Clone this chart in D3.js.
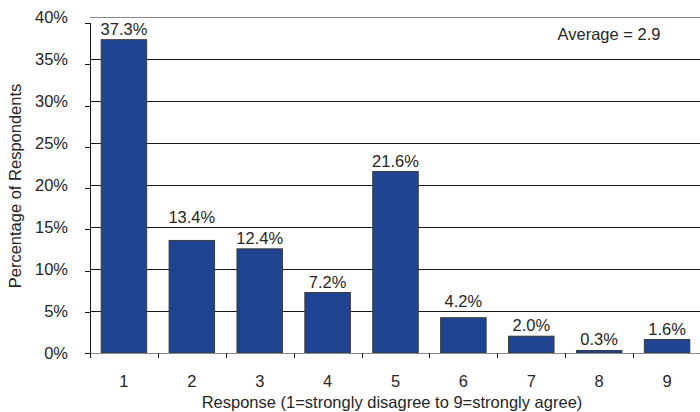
<!DOCTYPE html>
<html>
<head>
<meta charset="utf-8">
<script src="https://cdn.jsdelivr.net/npm/d3@7"></script>
<style>
  html, body { margin: 0; padding: 0; background: #fff; }
  svg text { font-family: "Liberation Sans", Arial, Helvetica, sans-serif; fill: #262626; }
</style>
</head>
<body>
<svg id="chart" width="700" height="412"></svg>
<script>
// Survey responses on a 1–9 scale
const responses = ["1", "2", "3", "4", "5", "6", "7", "8", "9"];
const percents = [37.3, 13.4, 12.4, 7.2, 21.6, 4.2, 2.0, 0.3, 1.6];
const yTicks = [0, 5, 10, 15, 20, 25, 30, 35, 40];
const averageLabel = "Average = 2.9";

const svg = d3.select("#chart");
const plotLeft = 90, plotRight = 701, plotTop = 17, plotBottom = 353;
const fs = 16.5;

const x = d3.scaleBand().domain(responses).range([plotLeft, plotRight]).paddingInner(0.33).paddingOuter(0.165);
const y = d3.scaleLinear().domain([0, 40]).range([plotBottom, plotTop]);
// tick marks on the value axis sit on a slightly compressed scale
const yTick = d3.scaleLinear().domain([0, 40]).range([plotBottom, 23]);

const gridVals = yTicks.filter(d => d > 0);

// horizontal gridlines
svg.append("g").selectAll("line").data(gridVals).join("line")
  .attr("x1", plotLeft).attr("x2", 700)
  .attr("y1", d => Math.round(y(d)) + 0.5).attr("y2", d => Math.round(y(d)) + 0.5)
  .attr("stroke", d => d === 40 ? "#8a8a8a" : "#1a1a1a").attr("stroke-width", 1);

// bars
svg.append("g").selectAll("rect").data(percents).join("rect")
  .attr("x", (d, i) => x(responses[i]))
  .attr("y", d => y(d))
  .attr("width", x.bandwidth())
  .attr("height", d => y(0) - y(d))
  .attr("fill", "#1f4592")
  .attr("stroke", "#3a3a3a").attr("stroke-width", 1);

// value labels: sit just above the bar, lifted over a gridline they would cross
function labelBaseline(v) {
  let base = y(v) - 5;
  const hit = gridVals.map(g => y(g)).find(gy => gy < base + 2 && gy > base - 12);
  if (hit !== undefined) base = hit - 4;
  return base;
}
svg.append("g").selectAll("text").data(percents).join("text")
  .attr("x", (d, i) => x(responses[i]) + x.bandwidth() / 2)
  .attr("y", d => labelBaseline(d))
  .attr("text-anchor", "middle")
  .attr("font-size", fs)
  .text(d => d.toFixed(1) + "%");

// value axis
const yAxis = svg.append("g");
yAxis.append("line").attr("x1", plotLeft + 0.5).attr("x2", plotLeft + 0.5).attr("y1", plotTop + 6).attr("y2", plotBottom)
  .attr("stroke", "#1a1a1a");
yAxis.selectAll(".tk").data(yTicks).join("line").attr("class", "tk")
  .attr("x1", plotLeft - 5).attr("x2", plotLeft)
  .attr("y1", d => Math.round(yTick(d)) + 0.5).attr("y2", d => Math.round(yTick(d)) + 0.5)
  .attr("stroke", "#1a1a1a");
yAxis.selectAll("text").data(yTicks).join("text")
  .attr("x", 68).attr("y", d => y(d) + 6)
  .attr("text-anchor", "end").attr("font-size", fs)
  .text(d => d + "%");

// category axis
const xAxis = svg.append("g");
xAxis.append("line").attr("x1", plotLeft).attr("x2", 700).attr("y1", plotBottom + 0.5).attr("y2", plotBottom + 0.5)
  .attr("stroke", "#8a8a8a");
const bounds = responses.map((r, i) => plotLeft + i * (plotRight - plotLeft) / responses.length);
xAxis.selectAll(".tk").data(bounds).join("line").attr("class", "tk")
  .attr("x1", d => Math.round(d) + 0.5).attr("x2", d => Math.round(d) + 0.5)
  .attr("y1", plotBottom).attr("y2", plotBottom + 5)
  .attr("stroke", "#1a1a1a");
xAxis.selectAll("text").data(responses).join("text")
  .attr("x", d => x(d) + x.bandwidth() / 2).attr("y", 387)
  .attr("text-anchor", "middle").attr("font-size", fs)
  .text(d => d);

// titles
svg.append("text").attr("x", 392).attr("y", 408).attr("text-anchor", "middle").attr("font-size", fs)
  .text("Response (1=strongly disagree to 9=strongly agree)");
svg.append("text").attr("transform", "translate(21,186) rotate(-90)").attr("text-anchor", "middle").attr("font-size", fs)
  .text("Percentage of Respondents");

svg.append("text").attr("x", 609).attr("y", 40).attr("text-anchor", "middle").attr("font-size", fs)
  .text(averageLabel);
</script>
</body>
</html>
